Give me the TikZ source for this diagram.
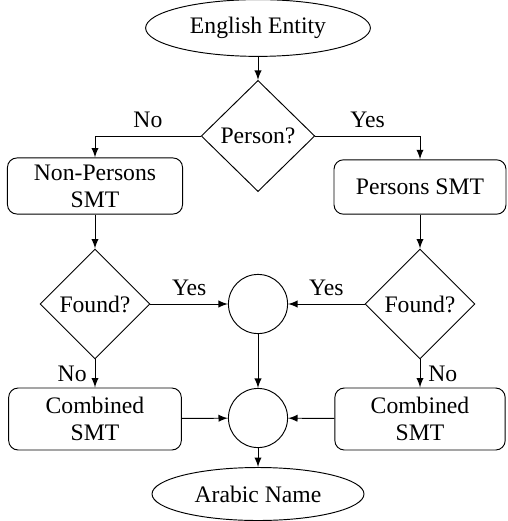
\documentclass[tikz,border=0pt]{standalone}
\usepackage{fontspec}
\setmainfont{Liberation Serif}
\usetikzlibrary{shapes.geometric,arrows}

\begin{document}
\begin{tikzpicture}[x=0.4227pt, y=-0.4227pt, >=latex, font=\fontsize{10}{11.5}\selectfont,
    term/.style={draw, ellipse, inner sep=0pt},
    decision/.style={draw, diamond, aspect=1, inner sep=0pt},
    smtbox/.style={draw, rectangle, rounded corners=4pt, align=center, inner sep=2pt},
    merge/.style={draw, circle, minimum size=25pt, inner sep=0pt}]
    \useasboundingbox (0,0) rectangle (507,521);

    % Input and first decision
    \node[term, minimum width=95pt, minimum height=24pt] (entity) at (258,28) {English Entity};
    \node[decision, minimum width=48pt, minimum height=47pt] (person) at (258,136) {Person?};

    % Translation systems
    \node[smtbox, minimum width=74pt, minimum height=23.7pt] (nonpers) at (95,186) {Non-Persons\\SMT};
    \node[smtbox, minimum width=72.7pt, minimum height=23pt] (pers) at (420,187) {Persons SMT};

    % Lookup checks
    \node[decision, minimum width=46.5pt, minimum height=46.5pt] (foundL) at (95,304) {Found?};
    \node[decision, minimum width=46.5pt, minimum height=46.5pt] (foundR) at (420,304) {Found?};

    % Joins
    \node[merge] (joinA) at (258,304) {};
    \node[merge] (joinB) at (258,418) {};

    % Fallback systems
    \node[smtbox, minimum width=73pt, minimum height=26.2pt] (combL) at (95,419) {Combined\\SMT};
    \node[smtbox, minimum width=72pt, minimum height=26.2pt] (combR) at (420,419) {Combined\\SMT};

    % Output
    \node[term, minimum width=89.6pt, minimum height=22.4pt] (arabic) at (258,494) {Arabic Name};

    % Connectors
    \draw[->] (entity) -- (person);
    \draw[->] (person.west) -| (nonpers.north) node[pos=0.25, above] {No};
    \draw[->] (person.east) -| (pers.north) node[pos=0.25, above] {Yes};
    \draw[->] (nonpers) -- (foundL);
    \draw[->] (pers) -- (foundR);
    \draw[->] (foundL) -- (joinA) node[midway, above] {Yes};
    \draw[->] (foundR) -- (joinA) node[midway, above] {Yes};
    \draw[->] (foundL) -- (combL) node[midway, left] {No};
    \draw[->] (foundR) -- (combR) node[midway, right] {No};
    \draw[->] (joinA) -- (joinB);
    \draw[->] (combL) -- (joinB);
    \draw[->] (combR) -- (joinB);
    \draw[->] (joinB) -- (arabic);
\end{tikzpicture}
\end{document}
